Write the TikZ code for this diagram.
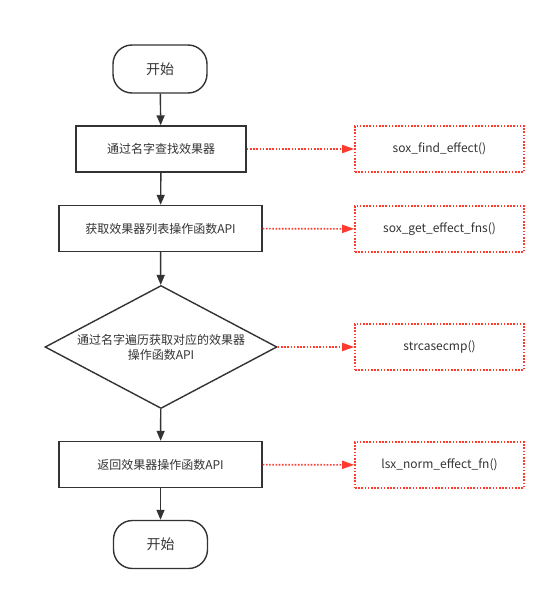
\documentclass[tikz,border=0pt]{standalone}
\usepackage{fontspec}
\setmainfont{Noto Sans CJK SC}
\usetikzlibrary{shapes.geometric,arrows.meta}
\definecolor{ink}{HTML}{333333}
\definecolor{redline}{HTML}{FF3B30}
\tikzset{
  term/.style={draw=ink, line width=1.4pt, rounded corners=19pt, minimum width=94pt, minimum height=48pt, inner sep=0pt, font=\fontsize{14}{16}\selectfont, text=ink},
  procbox/.style={draw=ink, line width=1.4pt, minimum width=203pt, minimum height=46pt, inner sep=0pt, font=\fontsize{12}{14}\selectfont, text=ink},
  decbox/.style={draw=ink, line width=1.4pt, diamond, aspect=1.886, minimum width=232pt, minimum height=123pt, inner sep=0pt, align=center, font=\fontsize{12}{15}\selectfont, text=ink},
  apibox/.style={draw=redline, line width=1.6pt, dash pattern=on 1.6pt off 1.6pt, minimum width=169pt, minimum height=46pt, inner sep=0pt, font=\fontsize{12}{14}\selectfont, text=ink},
  flow/.style={draw=ink, line width=1.4pt, -{Triangle[length=10pt,width=8pt]}},
  callarrow/.style={draw=redline, line width=1.6pt, dash pattern=on 1.6pt off 1.6pt, -{Triangle[length=12pt,width=8pt]}},
}
\begin{document}
\begin{tikzpicture}[x=1pt,y=-1pt]
\useasboundingbox (0,0) rectangle (554,599);
\node[term] (start) at (160,69) {开始};
\node[procbox, minimum width=170pt] (b1) at (161,149) {通过名字查找效果器};
\node[procbox] (b2) at (160.5,228.5) {获取效果器列表操作函数API};
\node[decbox] (d) at (161,347) {通过名字遍历获取对应的效果器\\操作函数API};
\node[procbox] (b3) at (160.5,464.5) {返回效果器操作函数API};
\node[term] (stop) at (160.5,544.5) {开始};
\node[apibox] (a1) at (439.5,149) {sox\_find\_effect()};
\node[apibox] (a2) at (439.5,229) {sox\_get\_effect\_fns()};
\node[apibox] (a3) at (439.5,347) {strcasecmp()};
\node[apibox] (a4) at (439.5,465) {lsx\_norm\_effect\_fn()};
\draw[flow] (start) -- (b1);
\draw[flow] (b1) -- (b2);
\draw[flow] (b2) -- (d);
\draw[flow] (d) -- (b3);
\draw[flow] (b3) -- (stop);
\draw[callarrow] (b1) -- (a1);
\draw[callarrow] (b2) -- (a2);
\draw[callarrow] (d) -- (a3);
\draw[callarrow] (b3) -- (a4);
\end{tikzpicture}
\end{document}
